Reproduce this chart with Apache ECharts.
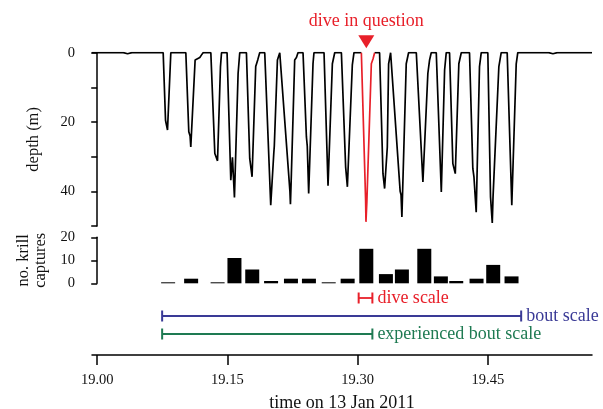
<!DOCTYPE html>
<html lang="en">
<head>
	<meta charset="UTF-8">
	<title>dive profile</title>
	<script type="text/javascript" src="https://cdn.jsdelivr.net/npm/echarts@6/dist/echarts.min.js"></script>
	<style>
		html, body { margin: 0; padding: 0; background: #fff; }
		#chart { width: 603px; height: 409px; }
	</style>
</head>
<body>
	<div id="chart"></div>
	<script type="text/javascript">
		// time in minutes after 19:00, depth in m
		var diveProfile = [
			[-0.6,0],[3,0],[3.5,0.3],[4,0],[7.6,0],
			[7.87,19.5],[7.95,20.5],[8.1,22.3],[8.48,0],
			[10.21,0],[10.55,22.8],[10.7,24],[10.78,27.2],[11.28,2.1],[11.82,1.4],[12.0,0.7],[12.2,0],
			[13.09,0],[13.55,29.1],[13.86,31.2],[14.2,4],[14.32,0],
			[14.96,0],[15.39,36.8],[15.58,30.2],[15.81,41.8],[16.23,6],[16.42,0],
			[17.19,0],[17.57,30.5],[17.84,35.8],[18.26,4],[18.5,2],[18.72,0],
			[19.3,0],[19.99,44],[20.34,29.1],[20.4,27],[20.76,2.1],[21.03,0],
			[21.26,0],[22.2,40],[22.26,43.7],[22.37,34.9],[22.75,2.1],[22.95,1.4],[23.13,0],
			[23.71,0],[24.1,24.3],[24.2,27],[24.36,40.6],[24.86,3.2],[24.97,0],
			[26.13,0],[26.59,38.4],[27.09,3.2],[27.36,0],
			[28.13,0],[28.62,33],[28.82,38.7],[29.39,3.5],[29.58,0],
			[30.43,0],[30.92,42.6],[30.96,48.8],[31.06,43.3],[31.58,3.2],[31.77,1.8],[31.96,0],
			[32.53,0],[32.92,34.9],[33.11,39.2],[33.42,27.2],[33.57,3.2],[33.8,0],
			[33.88,0],[34.9,40],[35.0,41],[35.1,47.4],[35.6,3.2],[35.87,0],
			[36.76,0],[37.52,37.3],[38.09,6],[38.29,2.1],[38.48,0],
			[39.06,0],[39.64,40.2],[40.02,5],[40.21,0],
			[40.59,0],[40.97,32],[41.25,34.9],[41.66,3.2],[41.94,0],
			[42.89,0],[43.27,33.4],[43.4,35.8],[43.66,46],[44.04,4],[44.24,0],
			[45.0,0],[45.31,41.6],[45.51,49.1],[45.6,41.6],[46.27,4],[46.54,0],
			[47.23,0],[47.76,44],[48.27,3.2],[48.45,0],
			[52,0],[52.5,0.3],[53,0],[57,0]
		];
		var focalDive = [30.43, 31.96];
		var focalMark = 31.0;

		var captureTime  = [8.17,10.82,13.87,15.81,17.86,20.03,22.32,24.39,26.67,28.85,31.0,33.26,35.1,37.68,39.59,41.36,43.7,45.62,47.73];
		var captureCount = [0,2,0,11,6,1,2,2,0,2,15,4,6,15,3,1,2,8,3];

		var scaleNames = ['experienced bout scale','bout scale','dive scale'];
		var scaleStart = [7.48, 7.48, 30.12];
		var scaleEnd   = [31.7, 48.84, 31.7];
		var scaleColors = ['#1e7a52','#3a3a96','#e8202a'];

		var timeTicks = [0,15,30,45];

		var serif = 'Liberation Serif';
		var red = '#e8202a';

		var blackLine = [], redLine = [];
		for (var i = 0; i < diveProfile.length; i++) {
			var p = diveProfile[i];
			if (p[0] > focalDive[0] && p[0] < focalDive[1]) {
				redLine.push(p);
				if (blackLine.length && blackLine[blackLine.length-1][1] !== null) blackLine.push([p[0], null]);
			} else {
				if (p[0] === focalDive[0] || p[0] === focalDive[1]) redLine.push(p);
				blackLine.push(p);
			}
		}

		var bars = captureTime.map(function(t, i){ return [t, captureCount[i]]; });

		var scaleSeries = scaleNames.map(function(n, i){
			return {
				type: 'line',
				xAxisIndex: 2, yAxisIndex: 2,
				data: [
					[scaleStart[i], n],
					{
						value: [scaleEnd[i], n],
						label: {
							show: true, position: 'right', distance: 4, formatter: n,
							color: scaleColors[i], fontFamily: serif, fontSize: 18
						}
					}
				],
				symbol: 'rect',
				symbolSize: [2, 11],
				showSymbol: true,
				lineStyle: { color: scaleColors[i], width: 1.8 },
				itemStyle: { color: scaleColors[i] }
			};
		});

		var axisBase = { show: false, type: 'value', min: -0.6, max: 57 };

		var chart = echarts.init(document.getElementById('chart'));
		chart.setOption({
			animation: false,
			backgroundColor: '#fff',
			textStyle: { fontFamily: serif },
			grid: [
				{ left: 92, right: 11, top: 52.7, height: 173.3, outerBoundsMode: 'none' },
				{ left: 92, right: 11, top: 237.3, height: 46, outerBoundsMode: 'none' },
				{ left: 92, right: 11, top: 289, height: 54, outerBoundsMode: 'none' }
			],
			xAxis: [
				Object.assign({ gridIndex: 0 }, axisBase),
				Object.assign({ gridIndex: 1 }, axisBase),
				{
					gridIndex: 2, type: 'value', min: -0.6, max: 57, offset: 12,
					axisLine: { show: true, lineStyle: { color: '#000', width: 1.5 } },
					axisTick: { show: true, length: 10, customValues: timeTicks, lineStyle: { color: '#000', width: 1.5 } },
					axisLabel: {
						customValues: timeTicks, margin: 18, color: '#111', fontSize: 14.5, fontFamily: serif,
						formatter: function(v){ return '19.' + (v < 10 ? '0' + v : v); }
					},
					splitLine: { show: false },
					name: 'time on 13 Jan 2011', nameLocation: 'middle', nameGap: 39,
					nameTextStyle: { color: '#111', fontSize: 18, fontFamily: serif }
				}
			],
			yAxis: [
				{
					gridIndex: 0, type: 'value', inverse: true, min: 0, max: 50, interval: 10,
					axisLine: { show: true, lineStyle: { color: '#000', width: 1.5 } },
					axisTick: { show: true, length: 6, lineStyle: { color: '#000', width: 1.5 } },
					axisLabel: {
						margin: 17, color: '#111', fontSize: 14.5, fontFamily: serif,
						formatter: function(v){ return v % 20 === 0 && v < 50 ? String(v) : ''; }
					},
					splitLine: { show: false },
					name: 'depth (m)', nameLocation: 'middle', nameGap: 50, nameRotate: 90,
					nameTextStyle: { color: '#111', fontSize: 16.5, fontFamily: serif }
				},
				{
					gridIndex: 1, type: 'value', min: 0, max: 20, interval: 10,
					axisLine: { show: true, lineStyle: { color: '#000', width: 1.5 } },
					axisTick: { show: true, length: 6, lineStyle: { color: '#000', width: 1.5 } },
					axisLabel: { margin: 17, color: '#111', fontSize: 14.5, fontFamily: serif },
					splitLine: { show: false },
					name: 'no. krill\ncaptures', nameLocation: 'middle', nameGap: 42, nameRotate: 90,
					nameTextStyle: { color: '#111', fontSize: 16.5, lineHeight: 17, fontFamily: serif }
				},
				{
					gridIndex: 2, type: 'category', data: scaleNames, show: false
				}
			],
			series: [
				{
					type: 'line', xAxisIndex: 0, yAxisIndex: 0,
					data: blackLine, symbol: 'none', connectNulls: false,
					lineStyle: { color: '#000', width: 1.7 }
				},
				{
					type: 'line', xAxisIndex: 0, yAxisIndex: 0,
					data: redLine, symbol: 'none',
					lineStyle: { color: red, width: 1.7 },
					markPoint: {
						symbol: 'triangle', symbolRotate: 180, symbolSize: [16, 13], symbolOffset: [0, -11],
						itemStyle: { color: red },
						label: {
							show: true, position: 'top', distance: 5, formatter: 'dive in question',
							color: red, fontSize: 18, fontFamily: serif
						},
						data: [{ coord: [focalMark, 0] }]
					}
				},
				{
					type: 'bar', xAxisIndex: 1, yAxisIndex: 1,
					data: bars, barWidth: 14, barMinHeight: 1,
					itemStyle: { color: '#000' }
				}
			].concat(scaleSeries)
		});
	</script>
</body>
</html>
